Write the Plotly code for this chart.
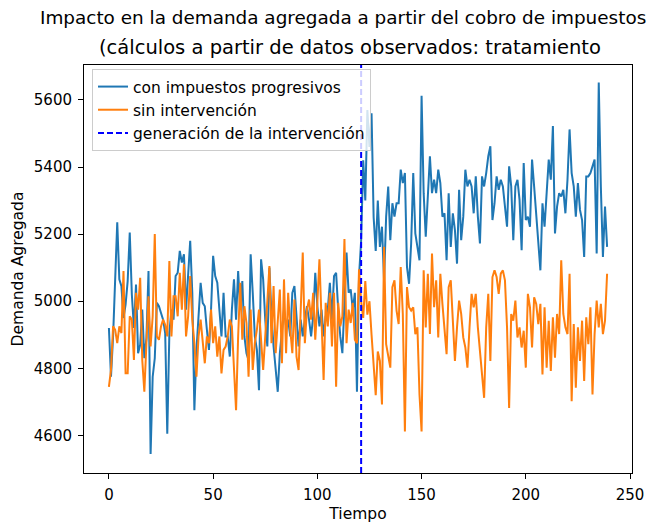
import plotly.graph_objects as go

# ---------------- data ----------------
tiempo = list(range(240))

con_impuestos = [
    4920, 4775, 4895, 5070, 5235, 5065, 5045, 4950, 4990, 5060,
    5205, 5020, 4920, 5050, 4845, 4870, 4975, 4830, 4890, 5090,
    4545, 4775, 4830, 4995, 4985, 4965, 4945, 4905, 4605, 4905,
    4975, 4945, 5075, 5085, 5150, 5115, 5140, 4975, 5075, 5180,
    5025, 4675, 4855, 4975, 5055, 4995, 4985, 4915, 4855, 4975,
    5135, 5075, 5055, 4975, 4895, 5025, 4895, 4895, 4835, 4975,
    5065, 4945, 5090, 4975, 5060, 4895, 4845, 4825, 5140, 5025,
    4895, 4855, 4735, 5125, 5065, 4945, 4865, 5100, 4955, 4865,
    4795, 4730, 4845, 4905, 4975, 4925, 4945, 4895, 5025, 5045,
    4955, 4865, 4945, 4895, 4945, 4985, 4945, 4895, 4955, 5085,
    4985, 4925, 4975, 4895, 4955, 4975, 5055, 4945, 5075, 5085,
    4975, 4895, 4845, 4975, 5145, 5025, 5035, 4975, 5025, 4730,
    5075, 5180, 5420, 5300, 5570, 5460, 5560, 5250, 5150, 5300,
    5162, 5222, 5062, 5252, 5342, 5182, 5292, 5252, 5292, 5292,
    5392, 5352, 5382, 5102, 5052, 5172, 5382, 5202, 5162, 5122,
    5612, 5322, 5192, 5302, 5432, 5322, 5362, 5322, 5392, 5352,
    5252, 5262, 5122, 5322, 5162, 5262, 5212, 5112, 5332, 5182,
    5252, 5392, 5342, 5362, 5342, 5262, 5372, 5252, 5172, 5372,
    5342, 5382, 5432, 5462, 5242, 5292, 5372, 5332, 5362, 5342,
    5282, 5222, 5402, 5342, 5182, 5342, 5362, 5302, 5152, 5412,
    5242, 5252, 5222, 5422, 5342, 5262, 5162, 5092, 5292, 5222,
    5322, 5422, 5362, 5522, 5202, 5282, 5322, 5312, 5332, 5262,
    5362, 5512, 5382, 5342, 5252, 5352, 5272, 5242, 5132, 5372,
    5372, 5382, 5402, 5422, 5142, 5652, 5342, 5132, 5282, 5162,
]

sin_intervencion = [
    4745, 4795, 4925, 4915, 4875, 4925, 4905, 5090, 4785, 4785,
    4955, 4945, 4825, 5025, 4975, 5070, 4825, 4730, 4875, 5015,
    4865, 4955, 5200, 4895, 4885, 4925, 4945, 4930, 4895, 5120,
    4895, 5015, 5015, 4955, 5085, 4975, 5110, 4895, 4955, 5075,
    4945, 4875, 4775, 4895, 4945, 4875, 4815, 4895, 4875, 4975,
    4875, 4925, 4835, 4895, 4785, 4855, 4865, 4895, 4945, 4925,
    4805, 4675, 4895, 5055, 4885, 4985, 4935, 4775, 4975, 4795,
    4875, 4915, 4975, 4875, 4795, 4895, 5005, 5105, 4875, 5045,
    4845, 4935, 5035, 4815, 5065, 4845, 5025, 4915, 4845, 5005,
    4835, 4795, 4975, 5145, 4875, 4975, 5005, 4945, 5025, 4885,
    4995, 5125, 4945, 4765, 4995, 4925, 5025, 4865, 5025, 4745,
    4995, 4925, 4955, 5185, 4875, 4975, 4935, 4995, 4885, 4875,
    5095, 5000, 4950, 5060, 4960, 5000, 4900, 4800, 4720, 4850,
    4822, 4692, 5162, 4872, 4842, 4802, 5042, 5062, 4972, 4932,
    5102, 4962, 4612, 5042, 4982, 4972, 4982, 4902, 4922, 4722,
    4612, 5092, 4922, 5082, 4902, 5142, 4982, 5062, 4892, 5082,
    4992, 4902, 4842, 5042, 5062, 4942, 4822, 4922, 5002, 4962,
    4892, 4862, 4802, 4922, 5022, 4982, 5022, 4922, 4842, 4782,
    4712, 4922, 5022, 4822, 5072, 5092, 5072, 5022, 5082, 5092,
    5062, 4922, 4682, 4962, 4942, 5002, 4892, 4922, 4862, 4912,
    4802, 5022, 4982, 4862, 5012, 4992, 4932, 4992, 4782, 4982,
    4802, 4942, 4792, 4952, 4832, 4962, 4902, 5122, 4962, 4922,
    4902, 5082, 4702, 4932, 4742, 4922, 4822, 4942, 4762, 4952,
    4872, 4982, 4722, 4902, 5002, 4922, 4992, 4902, 4942, 5082,
]

intervencion = 121

x_ticks = [0, 50, 100, 150, 200, 250]
y_ticks = [4600, 4800, 5000, 5200, 5400, 5600]

titulo_1 = "Impacto en la demanda agregada a partir del cobro de impuestos"
titulo_2 = "(cálculos a partir de datos observados: tratamiento"

FONT = "DejaVu Sans"

# ---------------- figure ----------------
fig = go.Figure()
fig.add_trace(go.Scatter(x=tiempo, y=con_impuestos, mode="lines",
                         name="con impuestos progresivos",
                         line=dict(color="#1f77b4", width=2)))
fig.add_trace(go.Scatter(x=tiempo, y=sin_intervencion, mode="lines",
                         name="sin intervención",
                         line=dict(color="#ff7f0e", width=2)))
# legend entry for the vertical line
fig.add_trace(go.Scatter(x=[None], y=[None], mode="lines",
                         name="generación de la intervención",
                         line=dict(color="blue", width=2, dash="6px,3px")))

fig.add_shape(type="line", xref="x", yref="paper",
              x0=intervencion, x1=intervencion, y0=0, y1=1,
              line=dict(color="blue", width=2, dash="6px,3px"))

L, R, T, B = 84, 20, 65, 50
W, H = 652, 523
pw, ph = W - L - R, H - T - B

def px_x(p):
    return (p - L) / pw

def px_y(p):
    return 1 + (T - p) / ph

fig.add_annotation(text=titulo_1, xref="paper", yref="paper",
                   x=px_x(38), y=px_y(18), xanchor="left", yanchor="middle",
                   showarrow=False, font=dict(family=FONT, size=18.4, color="black"))
fig.add_annotation(text=titulo_2, xref="paper", yref="paper",
                   x=px_x(97), y=px_y(48), xanchor="left", yanchor="middle",
                   showarrow=False, font=dict(family=FONT, size=19.5, color="black"))

axis_common = dict(showline=True, mirror=True, linecolor="black", linewidth=1,
                   ticks="outside", ticklen=5, tickcolor="black", tickwidth=1,
                   showgrid=False, zeroline=False,
                   tickfont=dict(family=FONT, size=15, color="black"))

fig.update_xaxes(range=[-11.95, 250.95], tickvals=x_ticks,
                 title=dict(text="Tiempo", font=dict(family=FONT, size=15.5, color="black"),
                            standoff=5),
                 ticklabelstandoff=3, **axis_common)
fig.update_yaxes(range=[4488, 5704], tickvals=y_ticks,
                 title=dict(text="Demanda Agregada", font=dict(family=FONT, size=15.5, color="black"),
                            standoff=6),
                 ticklabelstandoff=3, **axis_common)

fig.update_layout(
    width=W, height=H,
    margin=dict(l=L, r=R, t=T, b=B, autoexpand=False),
    paper_bgcolor="white", plot_bgcolor="white",
    font=dict(family=FONT, size=15, color="black"),
    showlegend=True,
    legend=dict(x=px_x(92), y=px_y(69), xanchor="left", yanchor="top",
                bgcolor="rgba(255,255,255,0.8)", bordercolor="#cccccc", borderwidth=1,
                font=dict(family=FONT, size=15.5, color="black"),
                tracegroupgap=0, itemwidth=30),
)

fig.write_html("out.html")
